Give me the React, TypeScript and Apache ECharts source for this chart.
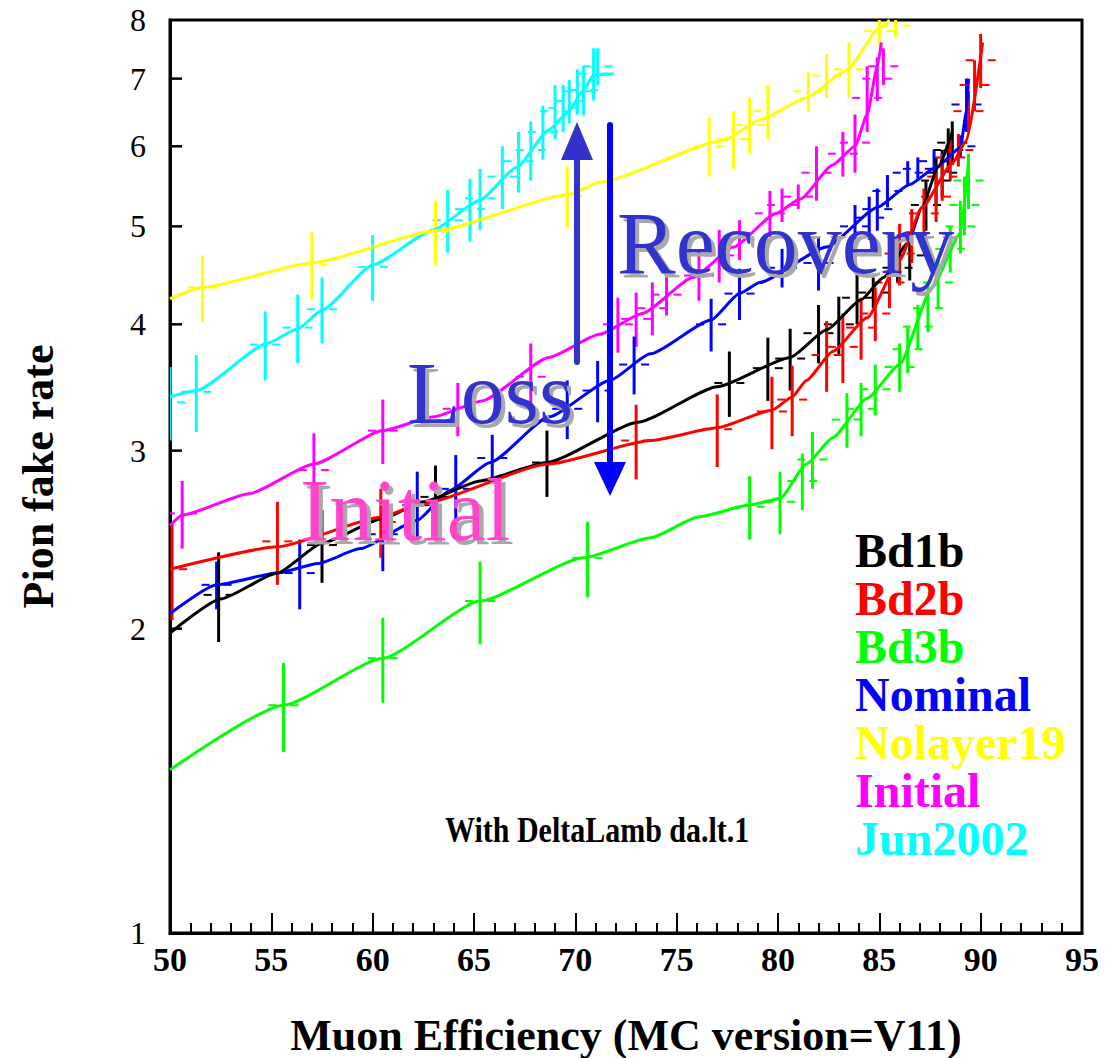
import React, { useEffect, useRef } from 'react';
import * as echarts from 'echarts';

const FONT = '"Liberation Serif", "Times New Roman", serif';

const seriesNames = ['Bd1b', 'Bd2b', 'Bd3b', 'Nominal', 'Nolayer19', 'Initial', 'Jun2002'];
const seriesColors = ['#000000', '#ff0000', '#00ff00', '#0000ff', '#ffff00', '#ff00ff', '#00ffff'];

const yTickLabels = [1, 2, 3, 4, 5, 6, 7, 8];

// Bd1b (black)
const bd1bX = [50, 52.5, 55.3, 57.5, 60.5, 62.5, 65.3, 68.6, 73.1, 77.0, 80.6, 82.4, 84.1, 85.2, 86.4, 87.1, 87.9, 88.6];
const bd1bY = [1.98, 2.14, 2.27, 2.43, 2.57, 2.67, 2.80, 2.92, 3.20, 3.47, 3.71, 3.95, 4.23, 4.45, 4.81, 5.22, 5.72, 6.2];
const bd1bErrX = [52.4, 57.5, 63.1, 68.6, 77.6, 79.5, 80.6, 82.0, 83.0, 83.9, 84.7, 85.9, 86.5, 87.3, 87.8, 88.1, 88.4, 88.6];
const bd1bErrY = [2.16, 2.42, 2.70, 2.92, 3.50, 3.62, 3.70, 3.92, 4.00, 4.25, 4.30, 4.55, 4.68, 5.25, 5.55, 5.65, 5.95, 6.05];
const bd1bErr = [0.22, 0.20, 0.20, 0.22, 0.26, 0.26, 0.26, 0.26, 0.26, 0.25, 0.15, 0.15, 0.26, 0.30, 0.30, 0.30, 0.30, 0.30];

// Bd2b (red)
const bd2bX = [50, 55.3, 60.5, 62.2, 68.7, 73.7, 77.0, 79.7, 80.7, 81.4, 82.7, 84.4, 86.0, 87.1, 88.6, 89.3, 90.1];
const bd2bY = [2.29, 2.41, 2.58, 2.65, 2.91, 3.07, 3.16, 3.29, 3.39, 3.52, 3.76, 4.06, 4.63, 5.22, 5.77, 6.08, 7.6];
const bd2bErrX = [50.1, 55.3, 60.4, 73.0, 77.0, 79.7, 80.7, 82.4, 83.2, 84.1, 84.8, 85.5, 86.0, 86.6, 87.2, 87.8, 88.1, 88.5, 88.9, 89.4, 89.7, 90.0];
const bd2bErrY = [2.29, 2.44, 2.55, 3.07, 3.15, 3.28, 3.37, 3.73, 3.80, 3.97, 4.10, 4.40, 4.70, 4.90, 5.15, 5.35, 5.60, 5.85, 5.95, 6.50, 6.90, 7.30];
const bd2bErr = [0.25, 0.23, 0.20, 0.26, 0.26, 0.27, 0.27, 0.30, 0.30, 0.28, 0.25, 0.25, 0.33, 0.30, 0.30, 0.30, 0.30, 0.30, 0.22, 0.30, 0.40, 0.45];

// Bd3b (green)
const bd3bX = [50, 55.6, 60.5, 65.3, 70.4, 73.7, 76.1, 78.6, 80.1, 81.4, 82.7, 84.4, 86.0, 87.6, 89.0, 89.4];
const bd3bY = [1.45, 1.68, 1.87, 2.13, 2.35, 2.46, 2.58, 2.65, 2.69, 2.91, 3.09, 3.38, 3.65, 4.35, 4.92, 5.8];
const bd3bErrX = [55.6, 60.5, 65.3, 70.6, 78.6, 80.1, 81.2, 81.7, 83.4, 84.1, 84.8, 86.0, 86.4, 86.9, 87.4, 87.9, 88.5, 89.0, 89.2, 89.4];
const bd3bErrY = [1.68, 1.87, 2.13, 2.35, 2.64, 2.67, 2.80, 2.94, 3.22, 3.30, 3.45, 3.63, 3.78, 3.98, 4.15, 4.40, 4.75, 5.00, 5.25, 5.55];
const bd3bErr = [0.17, 0.18, 0.20, 0.20, 0.19, 0.19, 0.18, 0.19, 0.20, 0.20, 0.20, 0.20, 0.20, 0.20, 0.22, 0.25, 0.25, 0.30, 0.35, 0.35];

// Nominal (blue)
const nominalX = [50, 52.3, 55.3, 57.3, 59.4, 62.2, 63.8, 65.8, 68.7, 71.7, 73.7, 76.7, 78.1, 79.1, 82.4, 84.9, 86.5, 87.8, 89.0, 89.3, 89.4];
const nominalY = [2.07, 2.21, 2.27, 2.32, 2.40, 2.56, 2.74, 2.92, 3.24, 3.52, 3.74, 4.04, 4.29, 4.40, 4.77, 5.22, 5.50, 5.72, 5.98, 6.5, 7.0];
const nominalErrX = [52.3, 56.4, 60.5, 62.2, 64.1, 65.9, 69.6, 71.1, 72.9, 76.7, 78.1, 80.2, 82.0, 83.8, 84.5, 84.9, 85.4, 86.4, 86.9, 87.7, 89.0, 89.3];
const nominalErrY = [2.21, 2.27, 2.48, 2.65, 2.75, 2.95, 3.30, 3.44, 3.65, 4.00, 4.29, 4.55, 4.60, 5.00, 5.10, 5.20, 5.42, 5.65, 5.70, 5.80, 6.00, 6.60];
const nominalErr = [0.12, 0.18, 0.20, 0.21, 0.22, 0.16, 0.22, 0.24, 0.24, 0.24, 0.25, 0.20, 0.28, 0.25, 0.25, 0.25, 0.20, 0.15, 0.15, 0.15, 0.15, 0.40];

// Nolayer19 (yellow)
const nolayerX = [50, 51.6, 57.0, 63.1, 69.6, 71.2, 77.3, 79.1, 81.4, 83.4, 85.0, 85.5];
const nolayerY = [4.24, 4.35, 4.60, 4.95, 5.37, 5.53, 6.08, 6.37, 6.70, 7.14, 7.85, 8.0];
const nolayerErrX = [51.6, 57.0, 63.1, 69.6, 76.6, 77.8, 78.6, 79.5, 81.5, 82.4, 83.5, 85.0, 85.8];
const nolayerErrY = [4.35, 4.58, 4.94, 5.36, 6.00, 6.10, 6.30, 6.50, 6.80, 7.05, 7.15, 7.80, 7.90];
const nolayerErr = [0.33, 0.35, 0.36, 0.37, 0.40, 0.40, 0.40, 0.40, 0.30, 0.35, 0.45, 0.25, 0.20];

// Initial (magenta)
const initialX = [50, 50.6, 53.9, 57.1, 60.5, 63.0, 65.4, 68.7, 71.2, 73.3, 75.8, 77.8, 79.9, 81.1, 82.7, 83.8, 84.4, 84.9, 85.1];
const initialY = [2.53, 2.59, 2.72, 2.91, 3.14, 3.24, 3.36, 3.71, 3.91, 4.10, 4.45, 4.77, 5.15, 5.32, 5.75, 6.00, 6.45, 7.2, 7.6];
const initialErrX = [50.6, 57.1, 60.5, 64.2, 67.8, 72.1, 73.0, 73.8, 74.5, 76.1, 77.1, 78.1, 79.6, 80.2, 81.0, 81.9, 83.2, 83.8, 84.4, 84.9, 85.2];
const initialErrY = [2.60, 2.87, 3.14, 3.30, 3.55, 4.00, 4.05, 4.15, 4.28, 4.47, 4.68, 4.85, 5.15, 5.25, 5.35, 5.65, 5.90, 6.05, 6.70, 7.00, 7.20];
const initialErr = [0.20, 0.25, 0.23, 0.20, 0.28, 0.25, 0.25, 0.25, 0.20, 0.25, 0.28, 0.22, 0.27, 0.20, 0.15, 0.35, 0.30, 0.40, 0.50, 0.35, 0.30];

// Jun2002 (cyan)
const junX = [50, 51.3, 54.8, 56.3, 57.5, 60.0, 63.0, 65.3, 67.1, 68.7, 69.6, 70.4, 70.9, 71.9];
const junY = [3.39, 3.44, 3.83, 3.96, 4.13, 4.58, 4.96, 5.31, 5.72, 6.23, 6.47, 6.82, 7.06, 7.08];
const junErrX = [50.0, 51.3, 54.7, 56.3, 57.5, 60.0, 63.7, 64.8, 65.3, 66.4, 67.2, 67.8, 68.4, 69.0, 69.4, 69.7, 70.1, 70.4, 70.9, 71.1];
const junErrY = [3.35, 3.43, 3.82, 3.97, 4.14, 4.56, 5.07, 5.20, 5.33, 5.60, 5.80, 5.95, 6.20, 6.50, 6.55, 6.65, 6.80, 6.82, 7.08, 7.20];
const junErr = [0.28, 0.30, 0.30, 0.31, 0.31, 0.34, 0.36, 0.37, 0.37, 0.40, 0.40, 0.40, 0.38, 0.40, 0.35, 0.33, 0.35, 0.38, 0.42, 0.30];

type Group = { name: string; color: string; x: number[]; y: number[]; ex: number[]; ey: number[]; ee: number[] };

const colorOf = (n: string) => seriesColors[seriesNames.indexOf(n)];

// drawing order (back to front)
const groups: Group[] = [
  { name: 'Jun2002', color: colorOf('Jun2002'), x: junX, y: junY, ex: junErrX, ey: junErrY, ee: junErr },
  { name: 'Nolayer19', color: colorOf('Nolayer19'), x: nolayerX, y: nolayerY, ex: nolayerErrX, ey: nolayerErrY, ee: nolayerErr },
  { name: 'Initial', color: colorOf('Initial'), x: initialX, y: initialY, ex: initialErrX, ey: initialErrY, ee: initialErr },
  { name: 'Nominal', color: colorOf('Nominal'), x: nominalX, y: nominalY, ex: nominalErrX, ey: nominalErrY, ee: nominalErr },
  { name: 'Bd3b', color: colorOf('Bd3b'), x: bd3bX, y: bd3bY, ex: bd3bErrX, ey: bd3bErrY, ee: bd3bErr },
  { name: 'Bd1b', color: colorOf('Bd1b'), x: bd1bX, y: bd1bY, ex: bd1bErrX, ey: bd1bErrY, ee: bd1bErr },
  { name: 'Bd2b', color: colorOf('Bd2b'), x: bd2bX, y: bd2bY, ex: bd2bErrX, ey: bd2bErrY, ee: bd2bErr },
];

const zip2 = (a: number[], b: number[]) => a.map((v, i) => [v, b[i]]);
const zip3 = (a: number[], b: number[], c: number[]) => a.map((v, i) => [v, b[i], c[i]]);

const errBar = (color: string) => (params: any, api: any) => {
  const x = api.value(0);
  const y = api.value(1);
  const e = api.value(2);
  const c = api.coord([x, y]);
  const t = api.coord([x, y + e]);
  const b = api.coord([x, y - e]);
  return {
    type: 'group',
    children: [
      { type: 'line', shape: { x1: c[0], y1: t[1], x2: c[0], y2: b[1] }, style: { stroke: color, lineWidth: 3 } },
      { type: 'line', shape: { x1: c[0] - 15, y1: c[1], x2: c[0] - 7, y2: c[1] }, style: { stroke: color, lineWidth: 2 } },
      { type: 'line', shape: { x1: c[0] + 7, y1: c[1], x2: c[0] + 15, y2: c[1] }, style: { stroke: color, lineWidth: 2 } },
    ],
  };
};

const yTickRender = (params: any, api: any) => {
  const v = api.value(1);
  const p = api.coord([api.value(0), v]);
  const children: any[] = [
    {
      type: 'text',
      x: p[0] - 24,
      y: p[1],
      style: {
        text: String(v),
        align: 'right',
        verticalAlign: 'middle',
        fontSize: 32,
        fontFamily: FONT,
        fill: '#000',
      },
    },
  ];
  if (v > 1 && v < 8) {
    children.push({ type: 'line', shape: { x1: p[0], y1: p[1], x2: p[0] + 12, y2: p[1] }, style: { stroke: '#000', lineWidth: 2.5 } });
  }
  return { type: 'group', children };
};

const buildOption = () => {
  const series: any[] = [];
  groups.forEach((g) => {
    series.push({
      type: 'custom',
      name: g.name,
      data: zip3(g.ex, g.ey, g.ee),
      dimensions: ['x', 'y', 'e'],
      encode: { x: 0, y: 1 },
      clip: true,
      silent: true,
      renderItem: errBar(g.color),
      z: 2,
    });
    series.push({
      type: 'line',
      name: g.name,
      data: zip2(g.x, g.y),
      showSymbol: false,
      symbol: 'none',
      smooth: 0.18,
      smoothMonotone: 'x',
      lineStyle: { color: g.color, width: 3 },
      itemStyle: { color: g.color },
      z: 3,
    });
  });
  series.push({
    type: 'custom',
    name: 'yTicks',
    data: yTickLabels.map((v) => [50, v]),
    clip: false,
    silent: true,
    renderItem: yTickRender,
    z: 5,
  });

  const annoText = (text: string, x: number, y: number, fill: string) => ({
    type: 'text',
    x,
    y,
    z: 20,
    style: {
      text,
      fill,
      fontSize: 88,
      fontFamily: FONT,
      align: 'left',
      verticalAlign: 'middle',
      textShadowColor: '#a8a8a8',
      textShadowOffsetX: 4,
      textShadowOffsetY: 4,
      textShadowBlur: 1,
    },
  });

  return {
    animation: false,
    backgroundColor: '#ffffff',
    grid: {
      left: 170,
      top: 20,
      width: 912,
      height: 913,
      show: true,
      borderColor: '#000',
      borderWidth: 3,
      backgroundColor: 'transparent',
      containLabel: false,
      outerBoundsMode: 'none',
    },
    xAxis: {
      type: 'value',
      min: 50,
      max: 95,
      interval: 5,
      axisLine: { onZero: false, lineStyle: { color: '#000', width: 3 } },
      axisTick: { inside: true, length: 20, lineStyle: { color: '#000', width: 2 } },
      minorTick: { show: true, splitNumber: 5, length: 10, lineStyle: { color: '#000', width: 2 } },
      splitLine: { show: false },
      axisLabel: { color: '#000', fontFamily: FONT, fontWeight: 'bold', fontSize: 34, margin: 9 },
      name: 'Muon Efficiency (MC version=V11)',
      nameLocation: 'middle',
      nameGap: 80,
      nameTextStyle: { color: '#000', fontFamily: FONT, fontWeight: 'bold', fontSize: 44 },
    },
    yAxis: {
      type: 'log',
      logBase: 10,
      min: 1,
      max: 8,
      axisLine: { onZero: false, lineStyle: { color: '#000', width: 3 } },
      axisTick: { show: false },
      axisLabel: { show: false },
      splitLine: { show: false },
      minorTick: { show: false },
      minorSplitLine: { show: false },
      name: 'Pion fake rate',
      nameLocation: 'middle',
      nameGap: 110,
      nameRotate: 90,
      nameTextStyle: { color: '#000', fontFamily: FONT, fontWeight: 'bold', fontSize: 44 },
    },
    legend: {
      orient: 'vertical',
      left: 845,
      top: 521,
      padding: 5,
      itemGap: 0,
      itemWidth: 0,
      itemHeight: 0,
      icon: 'none',
      selectedMode: false,
      textStyle: { fontFamily: FONT, fontWeight: 'bold', fontSize: 48 },
      data: seriesNames.map((n, i) => ({ name: n, icon: 'none', textStyle: { color: seriesColors[i] } })),
    },
    graphic: [
      { type: 'line', z: 19, shape: { x1: 577, y1: 362, x2: 577, y2: 150 }, style: { stroke: '#3333cc', lineWidth: 6, lineCap: 'round' } },
      { type: 'polygon', z: 19, shape: { points: [[577, 122], [561, 160], [593, 160]] }, style: { fill: '#3333cc' } },
      { type: 'line', z: 19, shape: { x1: 610, y1: 125, x2: 610, y2: 470 }, style: { stroke: '#0000ff', lineWidth: 6, lineCap: 'round' } },
      { type: 'polygon', z: 19, shape: { points: [[594, 462], [626, 462], [610, 496]] }, style: { fill: '#0000ff' } },
      annoText('Recovery', 617, 243, '#3333cc'),
      annoText('Loss', 407, 393, '#3333cc'),
      annoText('Initial', 300, 510, '#ff44cc'),
      {
        type: 'text',
        x: 445,
        y: 830,
        scaleY: 1.18,
        z: 20,
        style: {
          text: 'With DeltaLamb da.lt.1',
          fill: '#000',
          fontSize: 30,
          fontWeight: 'bold',
          fontFamily: FONT,
          align: 'left',
          verticalAlign: 'middle',
        },
      },
    ],
    series,
  };
};

export default function App() {
  const ref = useRef<HTMLDivElement>(null);
  useEffect(() => {
    document.body.style.margin = '0';
    const chart = echarts.init(ref.current as HTMLDivElement, null, { renderer: 'svg' });
    chart.setOption(buildOption() as any);
    return () => {
      chart.dispose();
    };
  }, []);
  return <div ref={ref} style={{ width: 1116, height: 1058, background: '#ffffff' }} />;
}
